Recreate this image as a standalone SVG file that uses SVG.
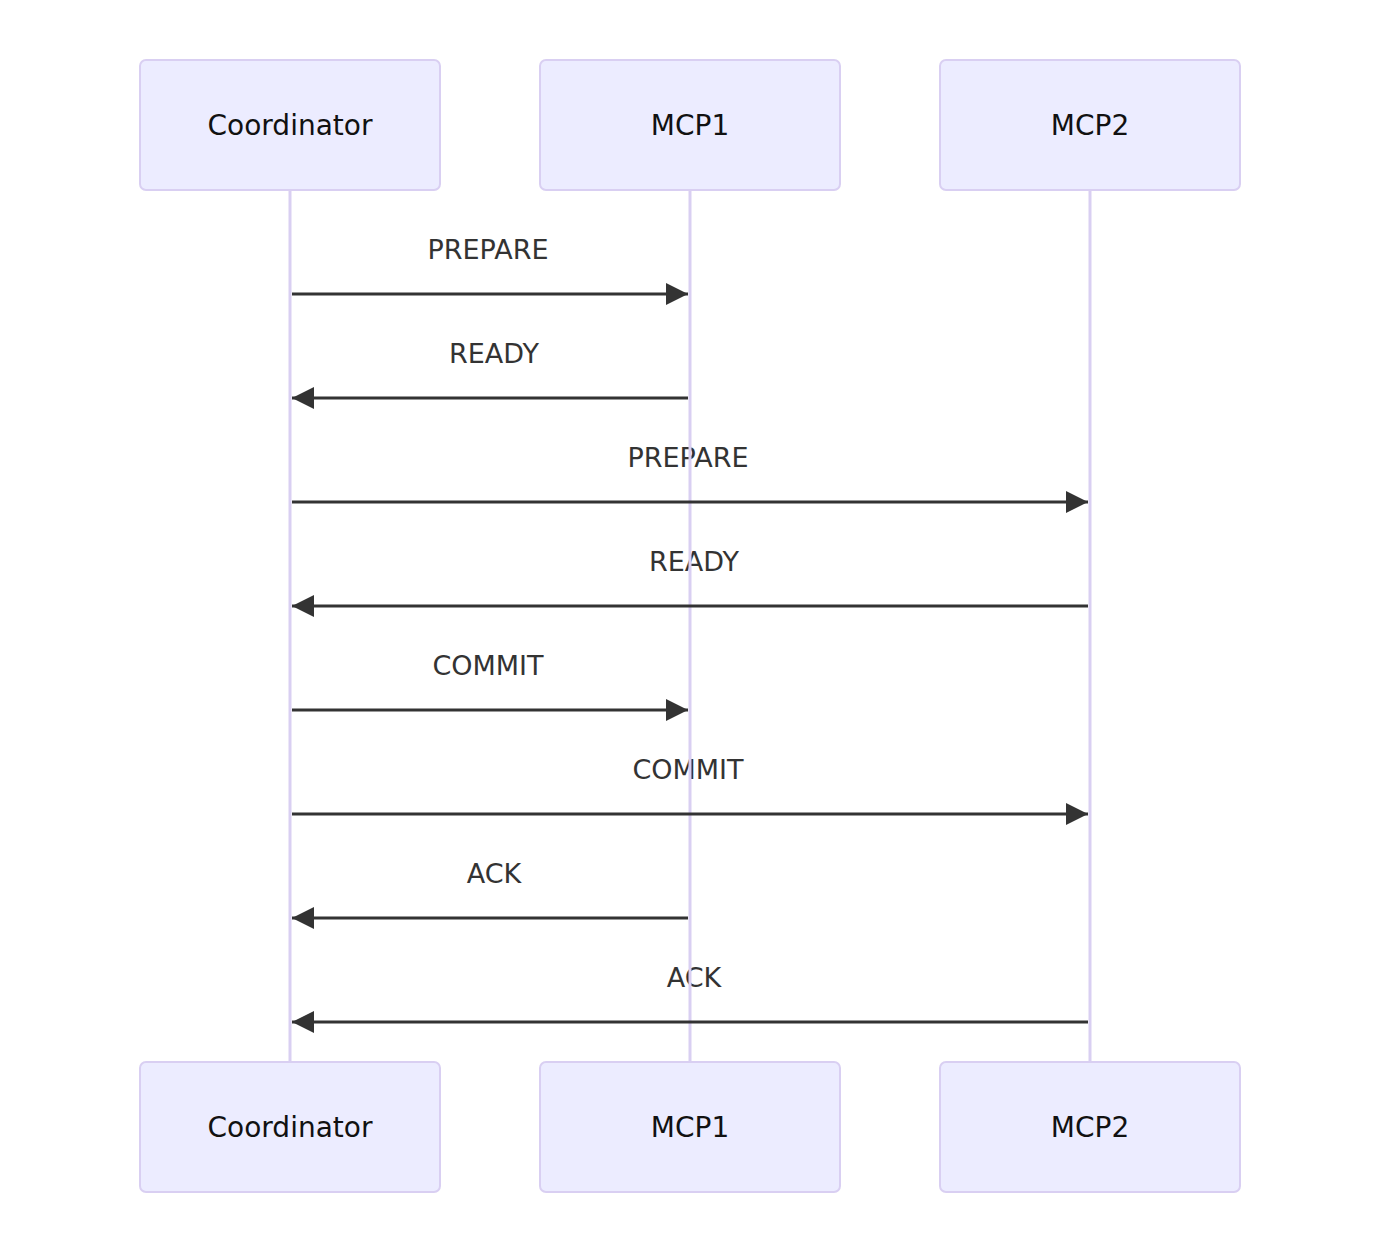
<svg xmlns="http://www.w3.org/2000/svg" width="1380" height="1254" viewBox="0 0 1380 1254">
<style>
.actor rect{fill:#ECECFF;stroke:#D9CFF2;stroke-width:2}
.actor text{font-family:"DejaVu Sans",sans-serif;font-size:28px;fill:#111;text-anchor:middle;dominant-baseline:central}
.life{stroke:#D9CFF2;stroke-width:3}
.msg{stroke:#333;stroke-width:3;fill:none}
.lbl{font-family:"DejaVu Sans",sans-serif;font-size:27px;fill:#333;text-anchor:middle;dominant-baseline:central}
</style>
<defs>
<marker id="ah" markerUnits="userSpaceOnUse" markerWidth="22" markerHeight="22" viewBox="0 0 20 20" refX="20" refY="10" orient="auto">
<path d="M0,0 L20,10 L0,20 z" fill="#333"/>
</marker>
</defs>
<rect width="1380" height="1254" fill="#fff"/>
<g id="labels">
<text class="lbl" x="488" y="249">PREPARE</text>
<text class="lbl" x="494" y="353">READY</text>
<text class="lbl" x="688" y="457">PREPARE</text>
<text class="lbl" x="694" y="561">READY</text>
<text class="lbl" x="488" y="665">COMMIT</text>
<text class="lbl" x="688" y="769">COMMIT</text>
<text class="lbl" x="494" y="873">ACK</text>
<text class="lbl" x="694" y="977">ACK</text>
</g>
<g id="lifelines">
<line class="life" x1="290" y1="190" x2="290" y2="1062"/>
<line class="life" x1="690" y1="190" x2="690" y2="1062"/>
<line class="life" x1="1090" y1="190" x2="1090" y2="1062"/>
</g>
<g id="connectors">
<line class="msg" x1="292" y1="294" x2="688" y2="294" marker-end="url(#ah)"/>
<line class="msg" x1="688" y1="398" x2="292" y2="398" marker-end="url(#ah)"/>
<line class="msg" x1="292" y1="502" x2="1088" y2="502" marker-end="url(#ah)"/>
<line class="msg" x1="1088" y1="606" x2="292" y2="606" marker-end="url(#ah)"/>
<line class="msg" x1="292" y1="710" x2="688" y2="710" marker-end="url(#ah)"/>
<line class="msg" x1="292" y1="814" x2="1088" y2="814" marker-end="url(#ah)"/>
<line class="msg" x1="688" y1="918" x2="292" y2="918" marker-end="url(#ah)"/>
<line class="msg" x1="1088" y1="1022" x2="292" y2="1022" marker-end="url(#ah)"/>
</g>
<g id="coordinator-top" class="actor"><rect x="140" y="60" width="300" height="130" rx="6"/><text x="290" y="125">Coordinator</text></g>
<g id="mcp1-top" class="actor"><rect x="540" y="60" width="300" height="130" rx="6"/><text x="690" y="125">MCP1</text></g>
<g id="mcp2-top" class="actor"><rect x="940" y="60" width="300" height="130" rx="6"/><text x="1090" y="125">MCP2</text></g>
<g id="coordinator-bottom" class="actor"><rect x="140" y="1062" width="300" height="130" rx="6"/><text x="290" y="1127">Coordinator</text></g>
<g id="mcp1-bottom" class="actor"><rect x="540" y="1062" width="300" height="130" rx="6"/><text x="690" y="1127">MCP1</text></g>
<g id="mcp2-bottom" class="actor"><rect x="940" y="1062" width="300" height="130" rx="6"/><text x="1090" y="1127">MCP2</text></g>
</svg>
